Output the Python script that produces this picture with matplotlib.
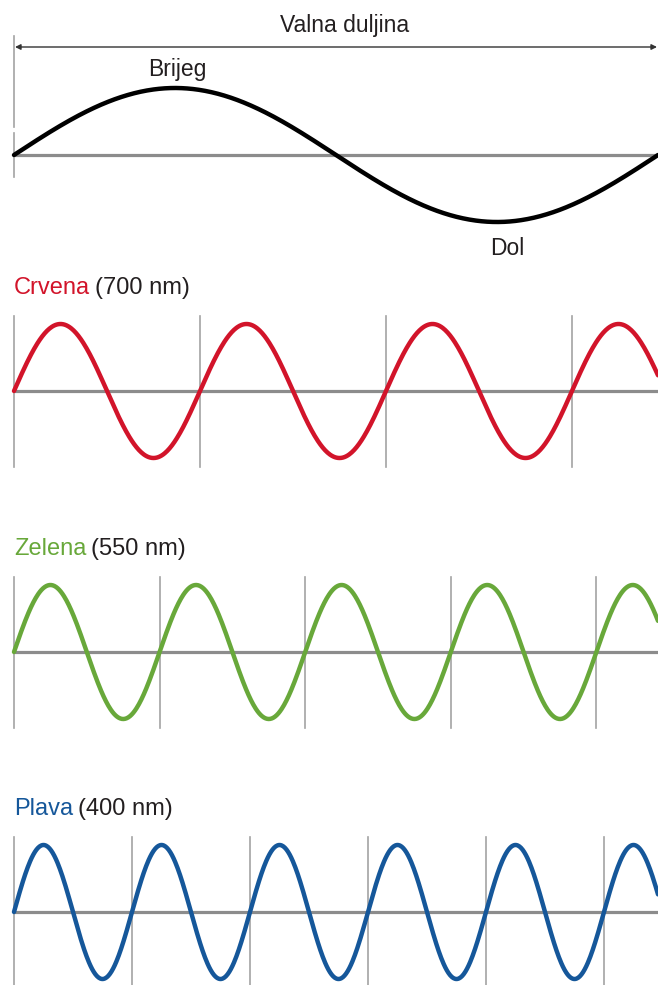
import numpy as np
import matplotlib.pyplot as plt

plt.rcParams['font.family'] = ['Liberation Sans', 'DejaVu Sans']

# boje / valne duljine
names = ['Crvena', 'Zelena', 'Plava']
nm_labels = ['(700 nm)', '(550 nm)', '(400 nm)']
colors = ['#d2142a', '#68a83a', '#15579a']
period_px = [186, 145.6, 118]       # duljina jednog vala na slici
baseline_y = [391, 652, 912]
title_y = [294, 555, 815]

# gornji val (oznake)
top_labels = ['Valna duljina', 'Brijeg', 'Dol']
top_period = 644
top_base = 155
amp = 67

x0, x1 = 14, 658
gray_axis = '#8c8c8c'
gray_tick = '#a3a3a3'
txt = '#231f20'

fig = plt.figure(figsize=(6.58, 9.85), dpi=100)
ax = fig.add_axes([0, 0, 1, 1])
ax.set_xlim(0, 658)
ax.set_ylim(985, 0)
ax.axis('off')

# --- gornji dio ---
x = np.linspace(x0, x1, 800)
ax.plot([x0, x1], [top_base, top_base], color=gray_axis, lw=2.3, solid_capstyle='butt')
ax.plot([x0, x0], [36, 127], color=gray_tick, lw=1.2)
ax.plot([x0, x0], [133, 177], color=gray_tick, lw=1.2)
ax.plot(x, top_base - amp * np.sin(2 * np.pi * (x - x0) / top_period), color='black', lw=3.2,
        solid_capstyle='round')
ax.annotate('', xy=(657, 47), xytext=(15, 47),
            arrowprops=dict(arrowstyle='<|-|>', lw=1.0, color='#333333', mutation_scale=8,
                            shrinkA=0, shrinkB=0))
ax.text(345, 32, top_labels[0], ha='center', va='baseline', fontsize=16.5, color=txt)
ax.text(177, 76, top_labels[1], ha='center', va='baseline', fontsize=16.5, color=txt)
ax.text(507, 255, top_labels[2], ha='center', va='baseline', fontsize=16.5, color=txt)

# --- tri boje ---
fig.canvas.draw()
r = fig.canvas.get_renderer()
for name, lab, c, p, by, ty in zip(names, nm_labels, colors, period_px, baseline_y, title_y):
    ax.plot([x0, x1], [by, by], color=gray_axis, lw=2.3, solid_capstyle='butt')
    for vx in np.arange(x0, x1, p):
        ax.plot([vx, vx], [by - 75, by + 76], color=gray_tick, lw=1.2)
    ax.plot(x, by - amp * np.sin(2 * np.pi * (x - x0) / p), color=c, lw=3.2,
            solid_capstyle='round')
    t1 = ax.text(x0, ty, name, ha='left', va='baseline', fontsize=17, color=c)
    bb = t1.get_window_extent(renderer=r).transformed(ax.transData.inverted())
    ax.text(bb.x1 + 5, ty, lab, ha='left', va='baseline', fontsize=17, color=txt)

fig.savefig('out.png', dpi=100)
